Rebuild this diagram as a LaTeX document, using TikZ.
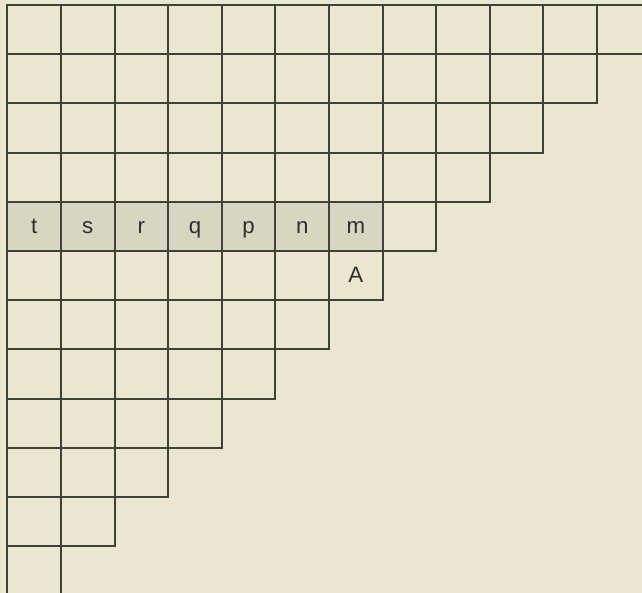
\documentclass[tikz,border=0pt]{standalone}
\usepackage{fontspec}
\setmainfont{Liberation Sans}
\definecolor{paper}{HTML}{EAE6D2}
\definecolor{shadecell}{HTML}{D7D6C2}
\definecolor{ink}{HTML}{404236}
\definecolor{textink}{HTML}{2E302A}
\tikzset{
  gridline/.style={draw=ink, line width=1.7pt},
  celltext/.style={text=textink, font=\fontsize{19}{21}\selectfont, inner sep=0pt, anchor=base}
}
\begin{document}
\begin{tikzpicture}[x=0.03cm,y=-0.03cm]
\def\cw{53.6}
\def\ch{49.2}
\def\xo{7.4}
\def\yo{5}
\fill[paper] (0,0) rectangle (642,593);
\useasboundingbox (0,0) rectangle (642,593);
\clip (0,0) rectangle (642,593);
% shaded row
\fill[shadecell] (\xo,\yo+4*\ch) rectangle (\xo+7*\cw,\yo+5*\ch);
% staircase grid
\foreach \i in {0,...,11} {
  \pgfmathtruncatemacro\n{11-\i}
  \foreach \j in {0,...,\n} {
    \draw[gridline] (\xo+\j*\cw,\yo+\i*\ch) rectangle ++(\cw,\ch);
  }
}
% labels
\foreach \t [count=\k from 0] in {t,s,r,q,p,n,m} {
  \node[celltext] (L\t) at (\xo+\k*\cw+0.5*\cw,\yo+4*\ch+0.5*\ch+7) {\t};
}
\node[celltext] (LA) at (\xo+6.5*\cw,\yo+5.5*\ch+7) {A};
\end{tikzpicture}
\end{document}
